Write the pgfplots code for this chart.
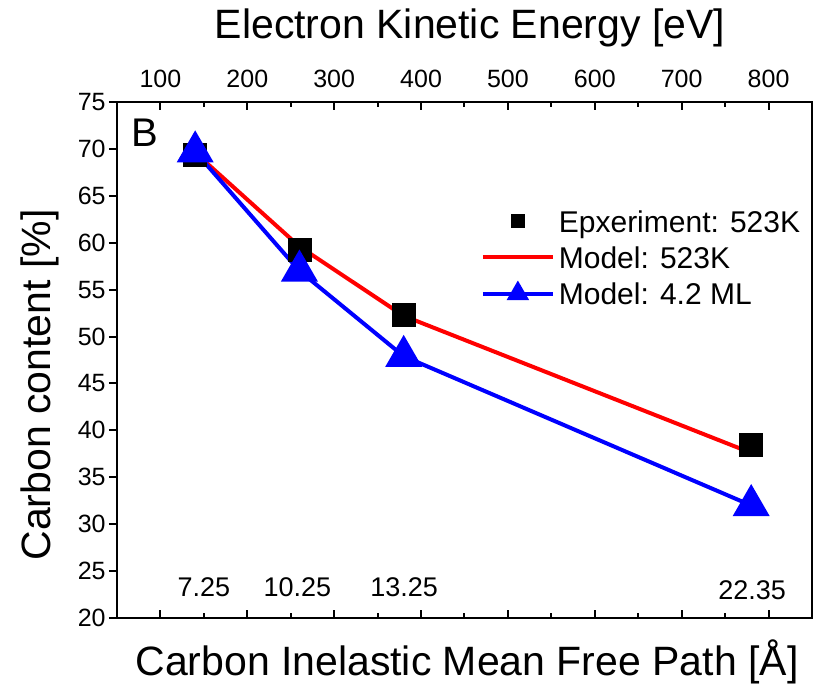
\documentclass[border=0pt]{standalone}
\usepackage{fontspec}
\setmainfont{Liberation Sans}
\usepackage{pgfplots}
\pgfplotsset{compat=1.18}
\begin{document}
\begin{tikzpicture}
\useasboundingbox (-58.5pt,-34pt) rectangle (348.5pt,309pt);
\begin{axis}[
  clip=false,
  scale only axis, width=347.5pt, height=258pt,
  xmin=50, xmax=850, ymin=20, ymax=75,
  axis line style={line width=1pt},
  tick style={black, line width=1pt},
  tick align=inside,
  major tick length=4pt, minor tick length=2.5pt,
  xtick={100,200,...,800},
  minor xtick={150,250,...,750},
  xtick pos=both, xticklabel pos=upper,
  ytick={20,25,...,75}, ytick pos=left,
  ytick style={xshift=-4pt},
  /pgf/number format/assume math mode=true,
  tick label style={font=\fontsize{12.5pt}{14pt}\selectfont},
  yticklabel style={inner sep=0pt, xshift=-5.5pt},
  xticklabel style={inner sep=0pt, yshift=6.75pt},
  xlabel={Carbon Inelastic Mean Free Path [Å]},
  xlabel style={at={(axis description cs:0.5036,-0.0853)}, anchor=center, font=\fontsize{20.5pt}{24pt}\selectfont},
  ylabel={Carbon content [\%]},
  ylabel style={at={(axis description cs:-0.1108,0.4516)}, anchor=center, font=\fontsize{20.5pt}{24pt}\selectfont},
  legend image code/.code={\draw[mark repeat=2,mark phase=2,#1] plot coordinates {(0pt,0pt) (17.5pt,0pt) (35pt,0pt)};},
  legend cell align=left,
  legend style={draw=none, fill=none, at={(axis description cs:0.5230,0.8050)}, anchor=north west,
    inner sep=0pt, row sep=0pt, column sep=0pt,
    font=\fontsize{15pt}{18pt}\selectfont},
]
\addlegendimage{only marks, mark=square*, mark size=3.2pt, black}
\addlegendentry{\strut Epxeriment: 523K}
\addlegendimage{red, line width=2pt}
\addlegendentry{\strut Model: 523K}
\addlegendimage{blue, line width=2pt, mark=triangle*, mark size=4.5pt, mark options={solid}}
\addlegendentry{\strut Model: 4.2 ML}

\addplot[forget plot, only marks, mark=square*, mark size=5.75pt, black]
  coordinates {(140,69.35) (260,59.2) (380,52.3) (780,38.45)};
\addplot[forget plot, red, line width=2pt, mark=none]
  coordinates {(140,69.6) (260,59.6) (380,52.2) (780,37.6)};
\addplot[forget plot, blue, line width=2pt, mark=triangle*, mark size=8.7pt]
  coordinates {(140,69.7) (260,57.0) (380,47.9) (780,32.0)};

\node[font=\fontsize{20.5pt}{24pt}\selectfont, anchor=center] at (axis description cs:0.508,1.1434) {Electron Kinetic Energy [eV]};
\node[font=\fontsize{20pt}{24pt}\selectfont] at (axis cs:82.3,71.75) {B};
\node[font=\fontsize{13.5pt}{16pt}\selectfont] at (axis cs:150,23.3) {7.25};
\node[font=\fontsize{13.5pt}{16pt}\selectfont] at (axis cs:257.6,23.3) {10.25};
\node[font=\fontsize{13.5pt}{16pt}\selectfont] at (axis cs:380.4,23.3) {13.25};
\node[font=\fontsize{13.5pt}{16pt}\selectfont] at (axis cs:781,23.0) {22.35};
\end{axis}
\end{tikzpicture}
\end{document}
